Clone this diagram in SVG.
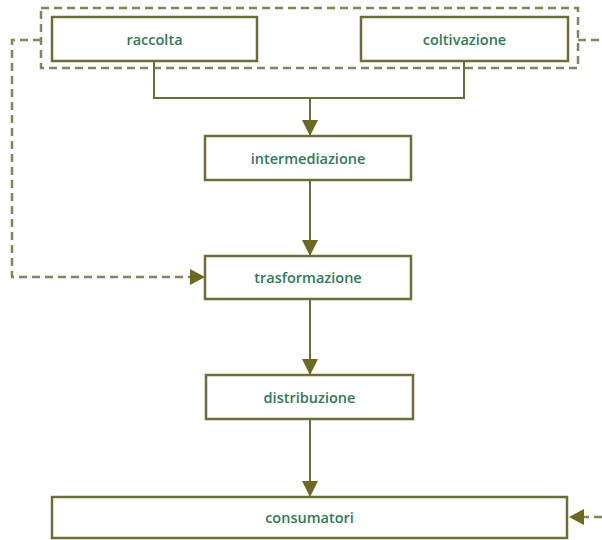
<svg xmlns="http://www.w3.org/2000/svg" width="602" height="540" viewBox="0 0 602 540">
<defs>
<style>
.box{fill:#ffffff;stroke:#6e6d38;stroke-width:2.5}
.lbl{font-family:"Open Sans","Noto Sans",sans-serif;font-weight:600;font-size:14.5px;fill:#2f7a58;text-anchor:middle;dominant-baseline:central}
.solid{fill:none;stroke:#6e6d38;stroke-width:2}
.dash{fill:none;stroke:#86845c;stroke-width:2.5;stroke-dasharray:8 5}
</style>
<marker id="ahb" viewBox="0 0 10 10" refX="10" refY="5" markerWidth="16" markerHeight="16" markerUnits="userSpaceOnUse" orient="auto">
<path d="M0,0 L10,5 L0,10 z" fill="#6b6a20"/>
</marker>
</defs>
<g id="group-frame">
<rect class="dash" x="41" y="8" width="537" height="60"/>
</g>
<g id="connectors">
<path class="solid" d="M154,61 V98 H464 V61"/>
<path class="solid" d="M310,98 V136" marker-end="url(#ahb)"/>
<path class="solid" d="M310,180 V256" marker-end="url(#ahb)"/>
<path class="solid" d="M310,299 V375" marker-end="url(#ahb)"/>
<path class="solid" d="M310,419 V497" marker-end="url(#ahb)"/>
<path class="dash" d="M41,40 H12 V277 H190"/>
<path d="M190,269 L205,277 L190,285 z" fill="#6b6a20"/>
<path class="dash" d="M578,40 H605 V517 H584"/>
<path d="M584,509 L569,517 L584,525 z" fill="#6b6a20"/>
</g>
<g id="raccolta">
<rect class="box" x="52" y="17" width="205" height="44"/>
<text class="lbl" x="154.5" y="39">raccolta</text>
</g>
<g id="coltivazione">
<rect class="box" x="361" y="17" width="207" height="44"/>
<text class="lbl" x="464.5" y="39">coltivazione</text>
</g>
<g id="intermediazione">
<rect class="box" x="205" y="136" width="206" height="44"/>
<text class="lbl" x="308" y="158">intermediazione</text>
</g>
<g id="trasformazione">
<rect class="box" x="205" y="256" width="206" height="43"/>
<text class="lbl" x="308" y="277.5">trasformazione</text>
</g>
<g id="distribuzione">
<rect class="box" x="206" y="375" width="207" height="44"/>
<text class="lbl" x="309.5" y="397">distribuzione</text>
</g>
<g id="consumatori">
<rect class="box" x="52" y="497" width="515" height="41"/>
<text class="lbl" x="309.5" y="517.5">consumatori</text>
</g>
</svg>
